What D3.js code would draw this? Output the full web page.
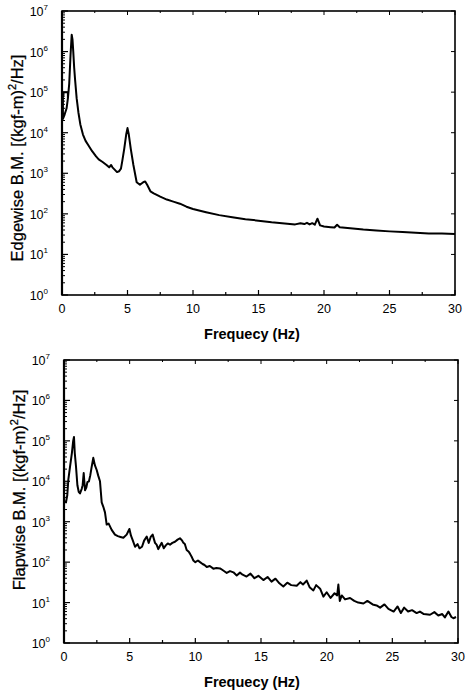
<!DOCTYPE html>
<html>
<head>
<meta charset="utf-8">
<script src="https://cdn.jsdelivr.net/npm/d3@7"></script>
<style>
  body { margin: 0; background: #fff; }
  svg { display: block; font-family: "Liberation Sans", Arial, sans-serif; }
</style>
</head>
<body>
<svg id="chart" width="467" height="690"></svg>
<script>
// Edgewise bending moment PSD
const edgeFreq = [0.45, 0.45, 0.07, 0.07, 0.2, 0.35, 0.45, 0.55, 0.65, 0.74, 0.8, 0.86, 0.93, 1.0, 1.12, 1.25, 1.4, 1.6, 1.8, 2.0, 2.3, 2.6, 2.8, 3.1, 3.4, 3.6, 3.75, 3.85, 4.0, 4.2, 4.35, 4.5, 4.6, 4.75, 4.9, 5.0, 5.1, 5.25, 5.45, 5.7, 5.95, 6.2, 6.35, 6.5, 6.75, 7.0, 7.5, 8.0, 8.5, 9.0, 9.5, 10, 11, 12, 13, 14, 15, 16, 17, 17.8, 18.2, 18.5, 18.7, 18.9, 19.1, 19.3, 19.5, 19.7, 20, 20.5, 20.8, 21.0, 21.2, 22, 23, 24, 25, 26, 27, 28, 29, 30];
const edgePsd = [7e4, 1e5, 1e5, 2.2e4, 2.8e4, 4e4, 7e4, 1.6e5, 8e5, 2.6e6, 2e6, 1e6, 4e5, 2e5, 7e4, 3.2e4, 1.6e4, 9e3, 6.3e3, 5e3, 3.5e3, 2.6e3, 2.2e3, 1.9e3, 1.6e3, 1.4e3, 1.6e3, 1.4e3, 1.25e3, 1.07e3, 1.12e3, 1.3e3, 2e3, 4e3, 9e3, 1.3e4, 9e3, 4e3, 1.6e3, 600, 520, 600, 630, 520, 360, 320, 265, 225, 200, 178, 150, 132, 110, 93, 83, 74, 68, 62, 58, 55, 59, 56, 60, 55, 59, 54, 76, 52, 49, 47, 46, 54, 47, 44, 41, 39, 37, 35.5, 34, 33, 33, 32];

// Flapwise bending moment PSD
const flapFreq = [0.05, 0.15, 0.25, 0.33, 0.46, 0.6, 0.7, 0.76, 0.82, 0.91, 1.02, 1.12, 1.22, 1.35, 1.42, 1.5, 1.6, 1.7, 1.78, 1.9, 2.0, 2.1, 2.23, 2.35, 2.49, 2.6, 2.74, 2.87, 3.0, 3.12, 3.25, 3.4, 3.63, 3.88, 4.1, 4.3, 4.52, 4.77, 4.98, 5.1, 5.23, 5.41, 5.6, 5.75, 5.94, 6.1, 6.3, 6.45, 6.6, 6.75, 6.93, 7.05, 7.18, 7.3, 7.44, 7.6, 7.75, 7.9, 8.07, 8.25, 8.45, 8.65, 8.83, 9.0, 9.09, 9.2, 9.34, 9.5, 9.6, 9.75, 9.85, 10.0, 10.2, 10.36, 10.55, 10.7, 10.87, 11.1, 11.37, 11.6, 11.88, 12.1, 12.39, 12.64, 12.9, 13.15, 13.4, 13.6, 13.9, 14.2, 14.5, 14.8, 15.18, 15.5, 15.8, 16.1, 16.4, 16.7, 17.0, 17.3, 17.72, 18.0, 18.2, 18.48, 18.7, 18.99, 19.2, 19.5, 19.75, 20.0, 20.3, 20.6, 20.8, 20.89, 21.0, 21.15, 21.4, 21.78, 22.1, 22.4, 22.8, 23.1, 23.5, 23.8, 24.07, 24.4, 24.7, 25.1, 25.4, 25.65, 25.9, 26.2, 26.5, 26.85, 27.1, 27.4, 27.87, 28.2, 28.5, 28.8, 29.0, 29.27, 29.5, 29.65, 29.85, 30];
const flapPsd = [3.3e3, 3e3, 4.5e3, 1.1e4, 2.3e4, 5e4, 1e5, 1.25e5, 5e4, 2.4e4, 8e3, 5.5e3, 5e3, 6.5e3, 8e3, 1.6e4, 6e3, 7e3, 9.5e3, 1e4, 1.4e4, 2.2e4, 3.8e4, 2.5e4, 1.9e4, 1.4e4, 1e4, 3e3, 2.3e3, 1.7e3, 850, 900, 630, 480, 440, 420, 400, 480, 660, 450, 350, 240, 280, 220, 240, 340, 430, 300, 420, 480, 300, 270, 210, 250, 300, 220, 260, 290, 270, 300, 320, 360, 390, 340, 300, 280, 200, 180, 160, 130, 110, 100, 110, 100, 90, 85, 76, 80, 69, 72, 70, 63, 54, 60, 56, 47, 55, 49, 44, 52, 40, 46, 36, 43, 33, 39, 30, 25, 31, 27, 26, 32, 28, 35, 24, 20, 27, 22, 14, 18, 13, 17, 15, 28, 11, 15, 12, 13, 11, 10, 9.5, 11, 9, 8.5, 7.5, 9, 7, 6, 8, 5.5, 7.5, 6, 6.5, 5.5, 6, 5.2, 5, 5.8, 4.8, 5.2, 4.3, 6, 4.4, 4.1, 4.4];

const freqTicks = [0, 5, 10, 15, 20, 25, 30];
const decadeTicks = [1, 10, 100, 1e3, 1e4, 1e5, 1e6, 1e7];
const xTitle = "Frequecy (Hz)";
const panels = [
  { name: "Edgewise", freq: edgeFreq, psd: edgePsd, left: 62, right: 455, top: 11, bottom: 295, titleY: 158 },
  { name: "Flapwise", freq: flapFreq, psd: flapPsd, left: 64, right: 458, top: 360, bottom: 643, titleY: 490 }
];

const svg = d3.select("#chart");

panels.forEach(p => {
  const x = d3.scaleLinear().domain([0, 30]).range([p.left, p.right]);
  const y = d3.scaleLog().domain([1, 1e7]).range([p.bottom, p.top]);
  const g = svg.append("g");

  // minor log ticks along the left side (inside)
  const minors = [];
  for (let e = 0; e < 7; e++) {
    for (let k = 2; k <= 9; k++) minors.push(k * Math.pow(10, e));
  }
  g.selectAll(".minorL").data(minors).enter().append("line")
    .attr("x1", p.left).attr("x2", p.left + 3)
    .attr("y1", d => y(d)).attr("y2", d => y(d))
    .attr("stroke", "#000").attr("stroke-width", 1);
  g.selectAll(".majorL").data(decadeTicks).enter().append("line")
    .attr("x1", p.left).attr("x2", p.left + 6)
    .attr("y1", d => y(d)).attr("y2", d => y(d))
    .attr("stroke", "#000").attr("stroke-width", 1.2);
  g.selectAll(".majorR").data(decadeTicks).enter().append("line")
    .attr("x1", p.right).attr("x2", p.right - 4)
    .attr("y1", d => y(d)).attr("y2", d => y(d))
    .attr("stroke", "#000").attr("stroke-width", 1);

  // x ticks every 2.5 Hz, inside, bottom and top
  const xt = d3.range(0, 30.01, 2.5);
  g.selectAll(".xb").data(xt).enter().append("line")
    .attr("x1", d => x(d)).attr("x2", d => x(d))
    .attr("y1", p.bottom).attr("y2", d => p.bottom - (d % 5 === 0 ? 5 : 3))
    .attr("stroke", "#000").attr("stroke-width", 1.2);
  g.selectAll(".xt").data(xt).enter().append("line")
    .attr("x1", d => x(d)).attr("x2", d => x(d))
    .attr("y1", p.top).attr("y2", d => p.top + (d % 5 === 0 ? 4 : 2))
    .attr("stroke", "#000").attr("stroke-width", 1);

  // frame
  g.append("rect")
    .attr("x", p.left).attr("y", p.top)
    .attr("width", p.right - p.left).attr("height", p.bottom - p.top)
    .attr("fill", "none").attr("stroke", "#000").attr("stroke-width", 1.6);
  g.append("line")
    .attr("x1", p.left).attr("x2", p.left).attr("y1", p.top).attr("y2", p.bottom)
    .attr("stroke", "#000").attr("stroke-width", 2.2);

  // x tick labels
  g.selectAll(".xl").data(freqTicks).enter().append("text")
    .attr("x", d => x(d)).attr("y", p.bottom + 18)
    .attr("text-anchor", "middle").attr("font-size", 12.5)
    .text(d => d);

  // y tick labels 10^n
  decadeTicks.forEach(d => {
    const t = g.append("text")
      .attr("x", p.left - 14).attr("y", y(d) + 5)
      .attr("text-anchor", "end").attr("font-size", 12.5);
    t.append("tspan").text("10");
    t.append("tspan").attr("dy", -6).attr("font-size", 8).text(Math.round(Math.log10(d)));
  });

  // x title
  g.append("text")
    .attr("x", 252).attr("y", p.bottom + 44)
    .attr("text-anchor", "middle").attr("font-size", 14.5).attr("font-weight", "bold")
    .text(xTitle);

  // y title
  const yt = g.append("text")
    .attr("transform", `translate(${p.left - 39},${p.titleY}) rotate(-90)`)
    .attr("text-anchor", "middle").attr("font-size", 16.5)
    .attr("stroke", "#000").attr("stroke-width", 0.25);
  yt.append("tspan").text(p.name + " B.M. [(kgf-m)");
  yt.append("tspan").attr("dy", -7).attr("font-size", 11).text("2");
  yt.append("tspan").attr("dy", 7).text("/Hz]");

  // spectrum line
  const pts = p.freq.map((f, i) => [f, p.psd[i]]);
  const line = d3.line().x(d => x(d[0])).y(d => y(d[1]));
  g.append("path")
    .datum(pts)
    .attr("fill", "none")
    .attr("stroke", "#000")
    .attr("stroke-width", 2)
    .attr("stroke-linejoin", "round")
    .attr("d", line);
});
</script>
</body>
</html>
